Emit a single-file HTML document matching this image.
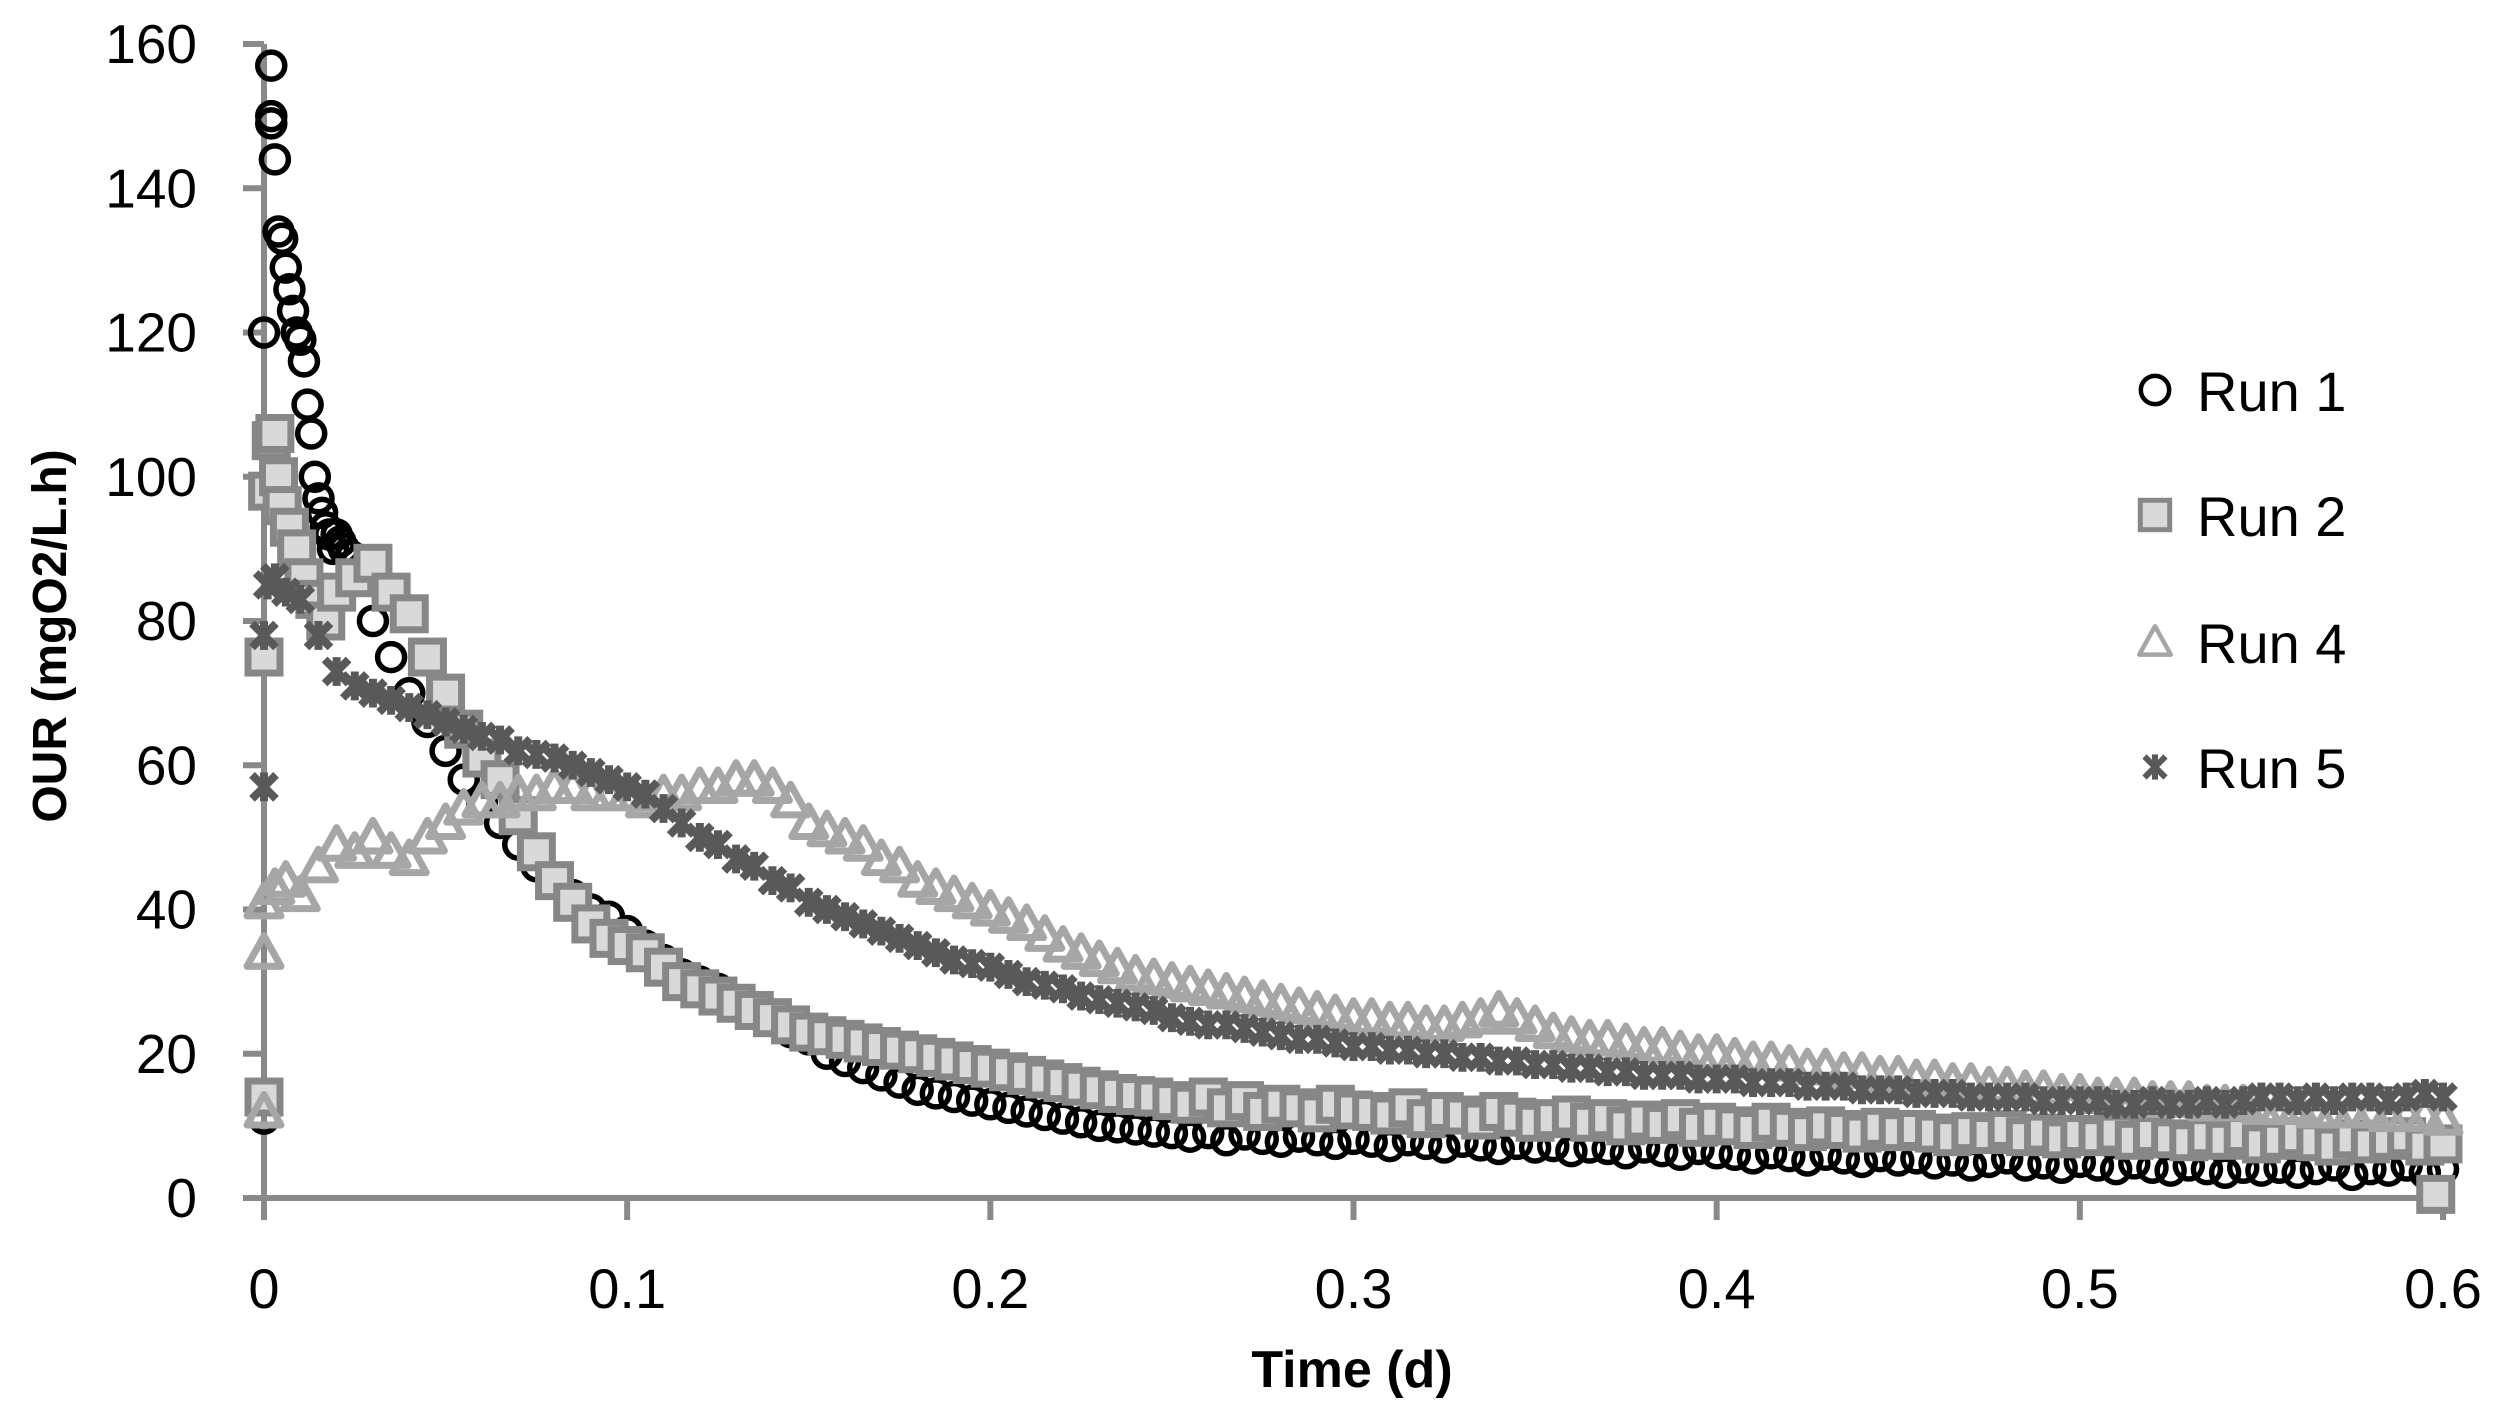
<!DOCTYPE html>
<html><head><meta charset="utf-8"><style>
html,body{margin:0;padding:0;background:#fff}
svg{display:block}
text{font-family:"Liberation Sans",sans-serif}
</style></head><body>
<svg id="chart" width="2500" height="1419" viewBox="0 0 2500 1419" xmlns="http://www.w3.org/2000/svg">
<g id="axes"></g>
<g id="series"></g>
<g id="legend"></g>
</svg>
<script>
const xTicks=[0,0.1,0.2,0.3,0.4,0.5,0.6];
const xTickLabels=["0","0.1","0.2","0.3","0.4","0.5","0.6"];
const yTicks=[0,20,40,60,80,100,120,140,160];
const yTickLabels=["0","20","40","60","80","100","120","140","160"];
const regStart=0.02, regStep=0.005;
const run1EarlyT=[0,0,0.002,0.002,0.002,0.003,0.004,0.005,0.006,0.007,0.008,0.009,0.010,0.011,0.012,0.013,0.014,0.015,0.016,0.017,0.018,0.019,0.021,0.022,0.024];
const run1EarlyY=[11,120,157,150,149,144,134,133,129,126,123,120,119,116,110,106,100,97,95,93,92,90,91,90,89];
const run1Y=[92,86,80,75,70,66,62,58,55,52,49,46,44,42,40,39,37,35,33,31,30,29,27,26,25,23,22,20,19,18,17,16,15,14.5,14,13.5,13,12.5,12,11.5,11,10.5,10,9.8,9.5,9.2,9,
8.5,9,8,8.8,8.2,7.8,8.5,8,7.5,8.2,7.8,7.2,8,7.5,7,7.8,7.3,6.8,7.5,7,7.2,6.5,7,6.8,6.2,7,6.5,6,6.8,6.2,6,5.5,6.2,5.8,5.2,6,5.5,5,5.8,5.2,5.5,4.8,5.2,4.5,5,5.5,4.5,4.8,4.2,5,4.5,4,4.8,4.2,3.8,4.5,4,3.5,4.2,3.8,4.2,3.5,4,4.5,3.2,4,3.8,4.5,3.5,4];
const run2EarlyT=[0,0,0.001,0.002,0.003,0.004,0.005,0.007,0.009,0.011,0.014,0.017,0.598];
const run2EarlyY=[14,75,98,105,106,100,96,93,90,86,83,80,0.5];
const run2Y=[84,86,88,84,81,75,70,65,61,58,53,48,44,41,38,36,35,34,32,30,29,28,27,26,25,24,23,22.5,22,21.5,21,20.5,20,19.5,19,18.5,18,17.5,17,16.5,16,15.5,15,14.5,14.2,14,13.5,
13,14,12.5,13.5,12,13,12.5,11.8,13,12.2,12,11.5,12.5,11,12,11.5,10.8,12,11.2,10.5,11,11.5,10.5,11,10,10.8,10.2,11,9.8,10.5,10,9.5,10.5,9.8,9.2,10,9.5,9,9.8,9.2,9.5,9,8.5,9.2,8.8,9.5,8.5,9,8.2,8.8,8.5,9,8,8.8,8.2,7.8,8.5,8,8.8,7.5,8,8.5,7.8,7.2,8.2,7.5,8,8.5,7.2,7.5];
const run4EarlyT=[0,0,0,0.003,0.006,0.01,0.015];
const run4EarlyY=[12,34,41,43,44,42,46];
const run4Y=[49,48,50,48,47,50,52,54,55,55,56,56,57,57,56,56,56,55,56,56,57,57,58,58,57,55,52,51,50,49,47,46,44,43,42,41,40,39,38,36.5,35,34,33,32,31,30.5,30,
29.5,29,28.5,28,27.5,27,26.5,26,25.5,25,25,24.5,24.5,24,24,24.5,25,26,25,24,23,22.5,22,22,21.5,21,21,20.5,20,20,19.5,19,19,18.5,18,18,17.5,17.5,17,17,16.5,16.5,16,16,15.5,15.5,15,15,14.5,14.5,14,14,14,13.5,13.5,13.5,13,13,13,12.5,12.5,12.5,12,12,12,12,11.5,11.5,11.5,11];
const run5EarlyT=[0,0,0.001,0.003,0.006,0.01,0.015];
const run5EarlyY=[57,78,85,86,84,83,78];
const run5Y=[73,71,70,69,68,67,66,65,64,63.5,62,61.5,61,60,59,58,57,56,54,52,50,49,47,46,44,43,41,40,39,38,37,36,35,34,33,32.5,32,31,30,29.5,29,28,27.5,27,26.5,26,25,
24.5,24,24,23.5,23,22.5,22,22,21.5,21,21,20.5,20.5,20,20,19.5,19.5,19,19,18.5,18.5,18,18,17.5,17.5,17,17,17,16.5,16.5,16.5,16,16,16,15.5,15.5,15.5,15,15,15,14.5,14.5,14.5,14,14,14,14,13.5,13.5,13.5,13.5,13,13,13.5,13,13,13.5,13,13.5,14,14,13.5,14,13.5,14,14,13.5,14,14.5,14];
const legendLabels=["Run 1","Run 2","Run 4","Run 5"];

const NS="http://www.w3.org/2000/svg";
const X0=264,X1=2443,Y0=1198,Y1=44;
function xs(t){return X0+(t-0)/(0.6-0)*(X1-X0);}
function ys(v){return Y0-(v-0)/(160-0)*(Y0-Y1);}
function mk(tag,attrs,parent){const e=document.createElementNS(NS,tag);for(const k in attrs)e.setAttribute(k,attrs[k]);parent.appendChild(e);return e;}
const axes=document.getElementById('axes'),ser=document.getElementById('series'),leg=document.getElementById('legend');
const AX="#898989";
let l=mk('line',{x1:X0,y1:Y1,x2:X0,y2:Y0+22,stroke:AX,'stroke-width':6},axes);

l=mk('line',{x1:X0-21,y1:Y0,x2:X1,y2:Y0,stroke:AX,'stroke-width':6},axes);

yTicks.forEach((v,i)=>{
  const t=mk('line',{x1:X0-21,y1:ys(v),x2:X0,y2:ys(v),stroke:AX,'stroke-width':6},axes);
  
  
  const tx=mk('text',{x:197,y:ys(v)+19,'text-anchor':'end','font-size':55,fill:'#000'},axes);
  tx.textContent=yTickLabels[i];
  
  
});
xTicks.forEach((v,i)=>{
  const t=mk('line',{x1:xs(v),y1:Y0,x2:xs(v),y2:Y0+22,stroke:AX,'stroke-width':6},axes);
  
  
  const tx=mk('text',{x:xs(v),y:1308,'text-anchor':'middle','font-size':56,fill:'#000'},axes);
  tx.textContent=xTickLabels[i];
  
  
});
let tt=mk('text',{x:1352,y:1387,'text-anchor':'middle','font-size':52,'font-weight':'bold',fill:'#000'},axes);
tt.textContent="Time (d)";


tt=mk('text',{x:0,y:0,'text-anchor':'middle','font-size':48,'font-weight':'bold',fill:'#000',transform:'translate(66,636) rotate(-90)'},axes);
tt.textContent="OUR (mgO2/L.h)";



function marker(type,cx,cy,g,scale,thin){
  const s=scale||1;let e;
  if(type==='circle'){e=mk('circle',{cx:cx,cy:cy,r:13.5*s,fill:'none',stroke:'#000','stroke-width':thin?4.5:5.5},g);}
  else if(type==='square'){const h=thin?14:16;e=mk('rect',{x:cx-h*s,y:cy-h*s,width:2*h*s,height:2*h*s,fill:'#d9d9d9',stroke:'#878787','stroke-width':thin?5:7},g);}
  else if(type==='tri'){const r=(thin?15:17)*s;e=mk('polygon',{points:`${cx},${cy-r} ${cx+r},${cy+r*0.8} ${cx-r},${cy+r*0.8}`,fill:'none',stroke:'#a6a6a6','stroke-width':thin?4.5:7,'stroke-linejoin':'round'},g);}
  else {const r=(thin?10:12)*s;e=mk('path',{d:`M${cx-r},${cy-r}L${cx+r},${cy+r}M${cx+r},${cy-r}L${cx-r},${cy+r}M${cx},${cy-r*1.2}L${cx},${cy+r*1.2}`,stroke:'#595959','stroke-width':thin?6:8,fill:'none'},g);}
  return e;
}
const seriesDefs=[
 {name:'run-1',type:'circle',eT:run1EarlyT,eY:run1EarlyY,reg:run1Y},
 {name:'run-2',type:'square',eT:run2EarlyT,eY:run2EarlyY,reg:run2Y},
 {name:'run-4',type:'tri',eT:run4EarlyT,eY:run4EarlyY,reg:run4Y},
 {name:'run-5',type:'x',eT:run5EarlyT,eY:run5EarlyY,reg:run5Y}
];
seriesDefs.forEach(sd=>{
  const g=mk('g',{},ser);
  
  
  const pts=[];
  sd.eT.forEach((t,i)=>pts.push([t,sd.eY[i]]));
  sd.reg.forEach((v,i)=>pts.push([regStart+i*regStep,v]));
  pts.forEach(p=>{
    const m=marker(sd.type,xs(p[0]),ys(p[1]),g);
    
    
  });
});
const legY=[390,515,642,767];
seriesDefs.forEach((sd,i)=>{
  const g=mk('g',{},leg);
  
  
  const m=marker(sd.type,2155,legY[i],g,1.05,true);
  
  
  const t=mk('text',{x:2197,y:legY[i]+21,'font-size':56,fill:'#000'},g);
  t.textContent=legendLabels[i];
  
  
});
</script>
</body></html>
